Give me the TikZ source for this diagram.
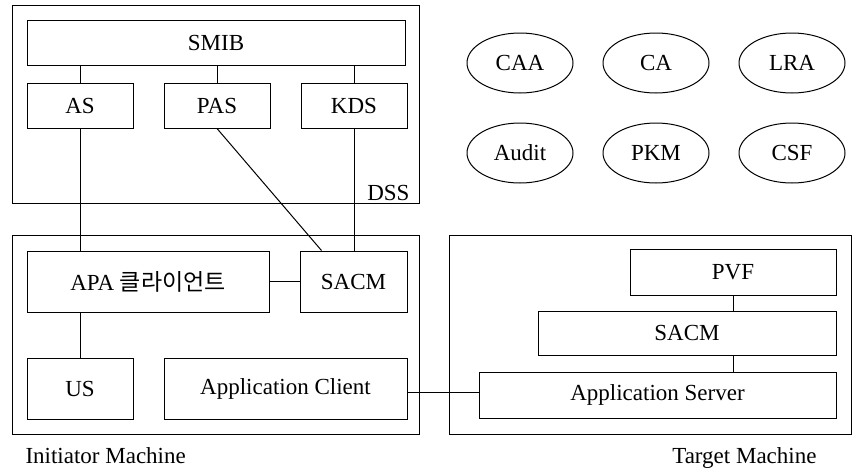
\documentclass[tikz,border=0pt]{standalone}
\usepackage{fontspec}
\setmainfont{Liberation Serif}
\newfontfamily\kofont{Noto Sans CJK KR}
\usepackage{tikz}
\usetikzlibrary{positioning,shapes.geometric}

\begin{document}
\begin{tikzpicture}[x=1pt, y=-1pt, node distance=29pt, line width=1pt,
  font=\fontsize{23}{27}\selectfont,
  frame/.style={draw, rectangle, inner sep=0pt},
  comp/.style={draw, rectangle, inner sep=0pt, minimum height=45pt},
  oval/.style={draw, ellipse, inner sep=0pt, minimum width=106pt, minimum height=60pt},
  tag/.style={inner sep=0pt}]
\useasboundingbox (0,0) rectangle (854,472);
\node[frame, minimum width=407pt, minimum height=198pt] (dss) at (215.5,104) {};
\node[comp, minimum width=378pt] (smib) at (216,42.5) {SMIB};
\node[comp, minimum width=106pt] (as) at (80,105.5) {AS};
\node[comp, minimum width=106pt, right=30pt of as] (pas) {PAS};
\node[comp, minimum width=106pt, right=30pt of pas] (kds) {KDS};
\node[tag, anchor=base east] (dss_lab) at (410,200) {DSS};
\node[oval] (caa) at (520,63) {CAA};
\node[oval, right=of caa] (ca) {CA};
\node[oval, right=of ca] (lra) {LRA};
\node[oval, below=of caa] (audit) {Audit};
\node[oval, below=of ca] (pkm) {PKM};
\node[oval, below=of lra] (csf) {CSF};
\node[frame, minimum width=407pt, minimum height=199pt] (init) at (215.5,334.5) {};
\node[comp, minimum width=242pt, minimum height=61pt] (apa) at (148,281.5) {APA {\kofont 클라이언트}};
\node[comp, minimum width=107pt, minimum height=61pt, right=30pt of apa] (sacm_i) {SACM};
\node[comp, minimum width=106pt, minimum height=61pt] (us) at (80,388.5) {US};
\node[comp, minimum width=243pt, minimum height=61pt, right=30pt of us] (client) {Application Client};
\node[tag, anchor=base west] (init_lab) at (25,463) {Initiator Machine};
\node[frame, minimum width=402pt, minimum height=199pt] (target) at (650,334.5) {};
\node[comp, minimum width=206pt, minimum height=46pt] (pvf) at (733,272) {PVF};
\node[comp, minimum width=298pt, minimum height=44pt] (sacm_t) at (687,333) {SACM};
\node[comp, minimum width=357pt, minimum height=46pt] (server) at (657.5,395) {Application Server};
\node[tag, anchor=base east] (target_lab) at (817,463) {Target Machine};
\foreach \n in {as,pas,kds}
  \draw (\n.north) -- (\n.north |- smib.south);
\draw (as.south) -- (as.south |- apa.north);
\draw (kds.south) -- (kds.south |- sacm_i.north);
\draw (pas.south) -- ([xshift=-32pt]sacm_i.north);
\draw (apa) -- (sacm_i);
\draw (us.north |- apa.south) -- (us.north);
\draw ([yshift=-4pt]client.east) -- ([yshift=-4pt]client.east -| server.west);
\draw (pvf.south) -- (pvf.south |- sacm_t.north);
\draw (pvf.south |- sacm_t.south) -- (pvf.south |- server.north);
\end{tikzpicture}
\end{document}
